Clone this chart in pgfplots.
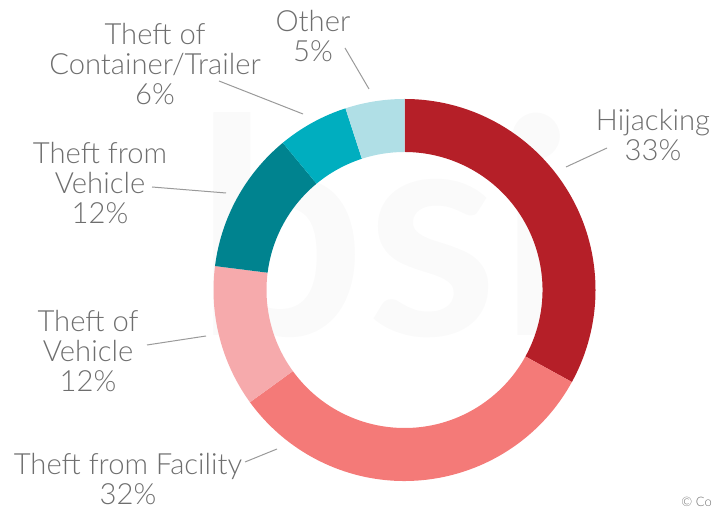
\documentclass[border=0pt]{standalone}
\usepackage{fontspec}
\IfFontExistsTF{Lato Light}{\setmainfont{Lato Light}}{\setmainfont{Lato}}
\newfontfamily\wmfont{Lato}
\usepackage{pgfplots}
\usepackage{pgfplotstable}
\pgfplotsset{compat=1.18}
\definecolor{cHij}{HTML}{B51F28}
\definecolor{cFac}{HTML}{F47A78}
\definecolor{cVeh}{HTML}{F6AAAC}
\definecolor{cFrom}{HTML}{00838F}
\definecolor{cCont}{HTML}{00AEBF}
\definecolor{cOth}{HTML}{B0DFE6}
\definecolor{txt}{HTML}{6E6E6E}
\definecolor{lead}{HTML}{9A9A9A}

\pgfplotstableread[col sep=comma]{
label,value,color
Hijacking,33,cHij
Theft from Facility,32,cFac
Theft of Vehicle,12,cVeh
Theft from Vehicle,12,cFrom
Theft of Container/Trailer,6,cCont
Other,5,cOth
}\donutdata

\begin{document}
\begin{tikzpicture}
\clip (0,0) rectangle (356pt,256pt);
\useasboundingbox (0,0) rectangle (356pt,256pt);
\begin{axis}[scale only axis, width=356pt, height=256pt,
  xmin=0, xmax=712, ymin=0, ymax=512, y dir=reverse,
  hide axis, clip=false]
\coordinate (C) at (axis cs:404.5,290);
% faint watermark
\node[text=black!2, font=\wmfont\bfseries\fontsize{150}{150}\selectfont, anchor=center] at (axis cs:385,225) {bsi};
% labels
\tikzset{lbl/.style={align=center, text=txt, font=\fontsize{14.6}{15.2}\selectfont, anchor=center, inner sep=0pt}}
\node[lbl] at (axis cs:653,135) {Hijacking\\33\%};
\node[lbl] at (axis cs:313,36) {Other\\5\%};
\node[lbl] at (axis cs:155,64) {Theft of\\Container/Trailer\\6\%};
\node[lbl] at (axis cs:100,183) {Theft from\\Vehicle\\12\%};
\node[lbl] at (axis cs:88,351) {Theft of\\Vehicle\\12\%};
\node[lbl] at (axis cs:128,479) {Theft from Facility\\32\%};
\node[text=txt, font=\fontsize{6.5}{7}\selectfont, anchor=west, inner sep=0pt] at (axis cs:681,503) {\textcopyright{} Cop};
% leader lines
\tikzset{ld/.style={draw=lead, line width=0.5pt}}
\draw[ld] (axis cs:607,148) -- (axis cs:566,167);
\draw[ld] (axis cs:345,48) -- (axis cs:369,89);
\draw[ld] (axis cs:219,81) -- (axis cs:303,114);
\draw[ld] (axis cs:152,187) -- (axis cs:226,193);
\draw[ld] (axis cs:147,345) -- (axis cs:206,336);
\draw[ld] (axis cs:245,462) -- (axis cs:277,449);
\end{axis}
% donut ring from the table values
\pgfplotstablegetrowsof{\donutdata}
\pgfmathtruncatemacro\lastrow{\pgfplotsretval-1}
\gdef\cum{90}
\pgfplotsforeachungrouped \i in {0,...,\lastrow}{%
  \pgfplotstablegetelem{\i}{value}\of\donutdata
  \let\val\pgfplotsretval
  \pgfplotstablegetelem{\i}{color}\of\donutdata
  \let\col\pgfplotsretval
  \pgfmathsetmacro\endang{\cum-3.6*\val}%
  \fill[\col] ([shift={(\cum:95.5pt)}]C) arc[start angle=\cum, end angle=\endang, radius=95.5pt]
     -- ([shift={(\endang:69pt)}]C) arc[start angle=\endang, end angle=\cum, radius=69pt] -- cycle;
  \xdef\cum{\endang}%
}
\end{tikzpicture}
\end{document}
